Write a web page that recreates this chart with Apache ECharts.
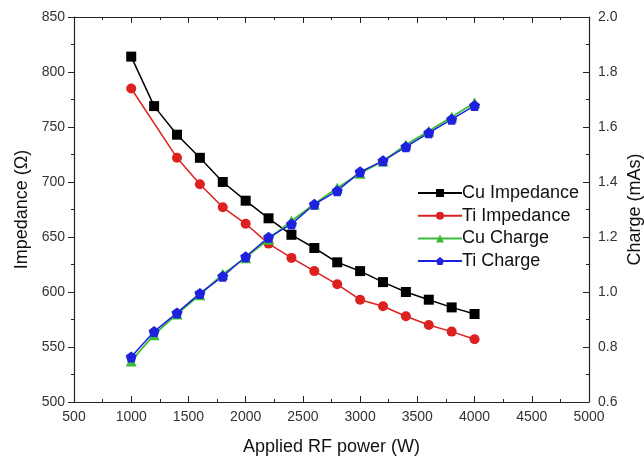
<!DOCTYPE html>
<html>
<head>
<meta charset="utf-8">
<script src="https://cdn.jsdelivr.net/npm/echarts@6/dist/echarts.min.js"></script>
<style>html,body{margin:0;padding:0;background:#fff;}#c{width:644px;height:461px;}</style>
</head>
<body>
<div id="c"></div>
<script>
const powerCu = [1000,1200,1400,1600,1800,2000,2200,2400,2600,2800,3000,3200,3400,3600,3800,4000];
const powerTi = [1000,1400,1600,1800,2000,2200,2400,2600,2800,3000,3200,3400,3600,3800,4000];
const cuImpedance = [814,769,743,722,700,683,667,652,640,627,619,609,600,593,586,580];
const tiImpedance = [785,722,698,677,662,644,631,619,607,593,587,578,570,564,557];
const cuCharge = [0.749,0.845,0.920,0.990,1.065,1.125,1.192,1.258,1.320,1.378,1.432,1.476,1.535,1.585,1.636,1.688];
const tiCharge = [0.764,0.856,0.924,0.995,1.057,1.128,1.199,1.247,1.319,1.368,1.437,1.477,1.528,1.579,1.628,1.678];

const pair = (xs, ys) => xs.map((x, i) => [x, ys[i]]);
const pentagon = 'path://M0,-1 L0.951,-0.309 L0.588,0.809 L-0.588,0.809 L-0.951,-0.309 Z';
const font = 'Liberation Sans, Arial, sans-serif';
const axisLine = {show: true, lineStyle: {color: '#222', width: 1.2}};

const chart = echarts.init(document.getElementById('c'), null, {renderer: 'canvas'});
chart.setOption({
  animation: false,
  backgroundColor: '#fff',
  grid: {left: 74, right: 55, top: 17, bottom: 59, containLabel: false, outerBoundsMode: 'none'},
  legend: {
    data: ['Cu Impedance', 'Ti Impedance', 'Cu Charge', 'Ti Charge'],
    orient: 'vertical',
    left: 412, top: 178,
    itemWidth: 44, itemHeight: 10, itemGap: 2.7,
    textStyle: {fontFamily: font, fontSize: 18, color: '#111', lineHeight: 20, padding: [0,0,0,-5]}
  },
  xAxis: [{
    type: 'value', min: 500, max: 5000, interval: 500, position: 'bottom',
    name: 'Applied RF power (W)', nameLocation: 'middle', nameGap: 36, nameMoveOverlap: false,
    nameTextStyle: {fontFamily: font, fontSize: 18, color: '#111'},
    axisLine: axisLine,
    axisTick: {show: true, inside: true, length: 6, lineStyle: {color: '#222'}},
    minorTick: {show: true, splitNumber: 2, length: 3, lineStyle: {color: '#222'}},
    axisLabel: {fontFamily: font, fontSize: 14, color: '#333', margin: 8, formatter: v => String(v)},
    splitLine: {show: false}
  }, {
    type: 'value', min: 500, max: 5000, interval: 500, position: 'top',
    axisLine: axisLine,
    axisTick: {show: true, inside: true, length: 6, lineStyle: {color: '#222'}},
    minorTick: {show: true, splitNumber: 2, length: 3, lineStyle: {color: '#222'}},
    axisLabel: {show: false},
    splitLine: {show: false}
  }],
  yAxis: [{
    type: 'value', min: 500, max: 850, interval: 50, position: 'left',
    name: 'Impedance (Ω)', nameLocation: 'middle', nameGap: 43, nameRotate: 90, nameMoveOverlap: false,
    nameTextStyle: {fontFamily: font, fontSize: 18, color: '#111'},
    axisLine: axisLine,
    axisTick: {show: true, inside: false, length: 6, lineStyle: {color: '#222'}},
    minorTick: {show: true, splitNumber: 2, length: 3, lineStyle: {color: '#222'}},
    axisLabel: {fontFamily: font, fontSize: 14, color: '#333', margin: 9},
    splitLine: {show: false}
  }, {
    type: 'value', min: 0.6, max: 2.0, interval: 0.2, position: 'right',
    name: 'Charge (mAs)', nameLocation: 'middle', nameGap: 37, nameRotate: 90, nameMoveOverlap: false,
    nameTextStyle: {fontFamily: font, fontSize: 18, color: '#111'},
    axisLine: axisLine,
    axisTick: {show: true, inside: true, length: 6, lineStyle: {color: '#222'}},
    minorTick: {show: true, splitNumber: 2, length: 3, lineStyle: {color: '#222'}},
    axisLabel: {fontFamily: font, fontSize: 14, color: '#333', margin: 9,
      formatter: v => v.toFixed(1)},
    splitLine: {show: false}
  }],
  series: [{
    name: 'Cu Impedance', type: 'line', xAxisIndex: 0, yAxisIndex: 0,
    data: pair(powerCu, cuImpedance),
    symbol: 'rect', symbolSize: 10,
    itemStyle: {color: '#000'}, lineStyle: {color: '#000', width: 1.5}
  }, {
    name: 'Ti Impedance', type: 'line', xAxisIndex: 0, yAxisIndex: 0,
    data: pair(powerTi, tiImpedance),
    symbol: 'circle', symbolSize: 10,
    itemStyle: {color: '#dd2020'}, lineStyle: {color: '#dd2020', width: 1.5}
  }, {
    name: 'Cu Charge', type: 'line', xAxisIndex: 0, yAxisIndex: 1,
    data: pair(powerCu, cuCharge),
    symbol: 'triangle', symbolSize: 11,
    itemStyle: {color: '#3cbb3c'}, lineStyle: {color: '#3cbb3c', width: 1.8}
  }, {
    name: 'Ti Charge', type: 'line', xAxisIndex: 0, yAxisIndex: 1,
    data: pair(powerCu, tiCharge),
    symbol: pentagon, symbolSize: 11,
    itemStyle: {color: '#1f22dd'}, lineStyle: {color: '#1f22dd', width: 1.5}
  }]
});
</script>
</body>
</html>
